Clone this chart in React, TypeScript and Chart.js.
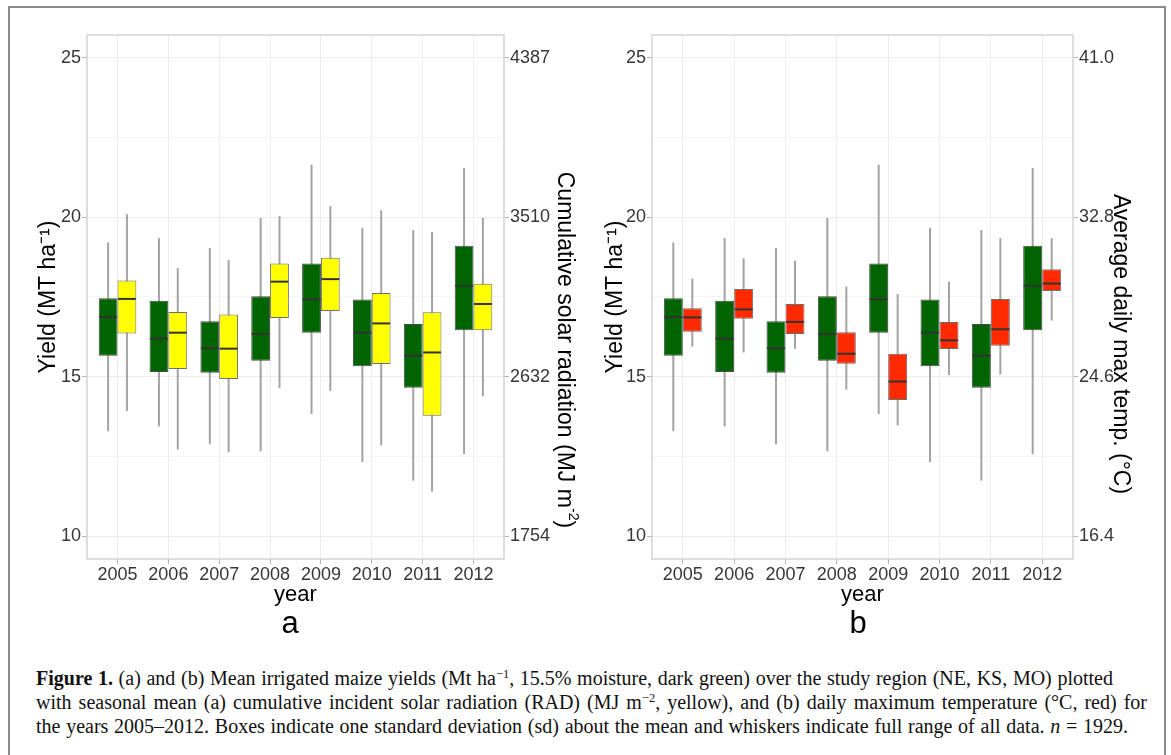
import React, { useEffect, useRef } from "react";
import { Chart, registerables } from "chart.js";

Chart.register(...registerables);

// ---------------- data ----------------
const YEARS = ["2005", "2006", "2007", "2008", "2009", "2010", "2011", "2012"];

// Irrigated maize yield (Mt ha-1): whisker min, box low (mean - sd), mean, box high (mean + sd), whisker max
const YIELD_MIN = [13.29, 13.44, 12.88, 12.66, 13.83, 12.32, 11.74, 12.57];
const YIELD_LOW = [15.66, 15.15, 15.12, 15.5, 16.38, 15.33, 14.65, 16.46];
const YIELD_MEAN = [16.87, 16.19, 15.89, 16.34, 17.43, 16.38, 15.66, 17.85];
const YIELD_HIGH = [17.46, 17.38, 16.74, 17.52, 18.55, 17.42, 16.65, 19.11];
const YIELD_MAX = [19.21, 19.35, 19.04, 19.98, 21.65, 19.67, 19.6, 21.55];

// Cumulative solar radiation (MJ m-2)
const RAD_MIN = [2442, 2231, 2216, 2568, 2553, 2254, 2000, 2524];
const RAD_LOW = [2869, 2674, 2619, 2955, 2993, 2702, 2417, 2888];
const RAD_MEAN = [3060, 2874, 2786, 3155, 3169, 2925, 2765, 3032];
const RAD_HIGH = [3162, 2988, 2974, 3255, 3286, 3093, 2986, 3144];
const RAD_MAX = [3527, 3230, 3274, 3516, 3571, 3548, 3429, 3506];

// Average daily max temperature (°C)
const TMAX_MIN = [26.15, 25.85, 26.03, 23.94, 22.09, 24.68, 24.71, 27.49];
const TMAX_LOW = [26.91, 27.58, 26.8, 25.26, 23.4, 26.03, 26.19, 29.01];
const TMAX_MEAN = [27.65, 28.06, 27.42, 25.78, 24.35, 26.47, 27.04, 29.39];
const TMAX_HIGH = [28.12, 29.11, 28.34, 26.88, 25.78, 27.42, 28.6, 30.13];
const TMAX_MAX = [29.65, 30.7, 30.57, 29.24, 28.85, 29.49, 31.73, 31.73];

// axes
const YIELD_RANGE = [9.28, 25.72];
const YIELD_TICKS = [10, 15, 20, 25];
const YIELD_MINOR_TICKS = [12.5, 17.5, 22.5];
const RAD_TICKS = [1754, 2632, 3510, 4387];
const TEMP_TICKS = [16.4, 24.6, 32.8, 41.0];

// ---------------- styling ----------------
const GREEN = "#006400";
const YELLOW = "#ffff00";
const RED = "#ff2a00";
const TICK_TEXT = "#363636";
const SANS = "'Liberation Sans', Arial, Helvetica, sans-serif";
const CANVAS_H = 615;

Chart.defaults.font.family = SANS;

const boxExtras = {
  id: "boxExtras",
  beforeDatasetsDraw(chart: any) {
    const ctx = chart.ctx;
    ctx.save();
    ctx.strokeStyle = "#a3a3a3";
    ctx.lineWidth = 2;
    chart.data.datasets.forEach((ds: any, di: number) => {
      const meta = chart.getDatasetMeta(di);
      const ys = chart.scales[meta.yAxisID];
      meta.data.forEach((el: any, i: number) => {
        const { x } = el.getProps(["x"], true);
        ctx.beginPath();
        ctx.moveTo(x, ys.getPixelForValue(ds.whiskerMin[i]));
        ctx.lineTo(x, ys.getPixelForValue(ds.whiskerMax[i]));
        ctx.stroke();
      });
    });
    ctx.restore();
  },
  afterDatasetsDraw(chart: any) {
    const ctx = chart.ctx;
    ctx.save();
    ctx.strokeStyle = "#333333";
    ctx.lineWidth = 2;
    chart.data.datasets.forEach((ds: any, di: number) => {
      const meta = chart.getDatasetMeta(di);
      const ys = chart.scales[meta.yAxisID];
      meta.data.forEach((el: any, i: number) => {
        const { x, width } = el.getProps(["x", "width"], true);
        const y = ys.getPixelForValue(ds.centre[i]);
        ctx.beginPath();
        ctx.moveTo(x - width / 2 + 0.5, y);
        ctx.lineTo(x + width / 2 - 0.5, y);
        ctx.stroke();
      });
    });
    const a = chart.chartArea;
    ctx.strokeStyle = "#d3d3d3";
    ctx.lineWidth = 1.5;
    ctx.strokeRect(a.left, a.top, a.right - a.left, a.bottom - a.top);
    ctx.restore();
  },
};

type PanelProps = {
  left: number;
  width: number;
  leftAxisWidth: number;
  rightAxisWidth: number;
  leftTitleOffset: number;
  secLabel: string;
  secColor: string;
  secMin: number[];
  secLow: number[];
  secMean: number[];
  secHigh: number[];
  secMax: number[];
  secTicks: number[];
  secFormat: (v: number) => string;
};

function secondaryRange(secTicks: number[]) {
  const a = (secTicks[3] - secTicks[0]) / (YIELD_TICKS[3] - YIELD_TICKS[0]);
  const map = (v: number) => secTicks[0] + (v - YIELD_TICKS[0]) * a;
  return [map(YIELD_RANGE[0]), map(YIELD_RANGE[1])];
}

function buildConfig(p: PanelProps): any {
  const [secLo, secHi] = secondaryRange(p.secTicks);
  const yieldTickList = [...YIELD_TICKS, ...YIELD_MINOR_TICKS].sort((a, b) => a - b);
  const isMajor = (v: number) => YIELD_TICKS.includes(v);
  return {
    type: "bar",
    data: {
      datasets: [
        {
          label: "Yield",
          data: YEARS.map((_, i) => ({ x: i, y: [YIELD_LOW[i], YIELD_HIGH[i]] })),
          whiskerMin: YIELD_MIN,
          whiskerMax: YIELD_MAX,
          centre: YIELD_MEAN,
          backgroundColor: GREEN,
          borderColor: "#4a4a4a",
          borderWidth: 1,
          borderSkipped: false,
          yAxisID: "y",
        },
        {
          label: p.secLabel,
          data: YEARS.map((_, i) => ({ x: i, y: [p.secLow[i], p.secHigh[i]] })),
          whiskerMin: p.secMin,
          whiskerMax: p.secMax,
          centre: p.secMean,
          backgroundColor: p.secColor,
          borderColor: "#6e6e6e",
          borderWidth: 1,
          borderSkipped: false,
          yAxisID: "y2",
        },
      ],
    },
    options: {
      responsive: false,
      animation: false,
      events: [],
      layout: { padding: { top: 35, left: 0, right: 0, bottom: 0 } },
      datasets: { bar: { categoryPercentage: 0.74, barPercentage: 1 } },
      plugins: { legend: { display: false }, tooltip: { enabled: false }, title: { display: false } },
      scales: {
        x: {
          type: "linear",
          offset: false,
          bounds: "data",
          min: -0.6,
          max: 7.6,
          afterBuildTicks: (s: any) => {
            s.ticks = YEARS.map((_, i) => ({ value: i }));
          },
          afterFit: (s: any) => {
            s.height = CANVAS_H - 559;
          },
          ticks: {
            autoSkip: false,
            maxRotation: 0,
            minRotation: 0,
            padding: 0,
            color: TICK_TEXT,
            font: { size: 18 },
            callback: (v: any) => YEARS[Math.round(Number(v))] ?? "",
          },
          grid: { offset: false, color: "#ececec", lineWidth: 1, tickLength: 5, tickColor: "#b5b5b5" },
          border: { display: false },
          title: { display: true, text: "year", color: "#000", font: { size: 22 }, padding: { top: 0, bottom: 6.8 } },
        },
        y: {
          type: "linear",
          position: "left",
          min: YIELD_RANGE[0],
          max: YIELD_RANGE[1],
          afterBuildTicks: (s: any) => {
            s.ticks = yieldTickList.map((v) => ({ value: v }));
          },
          afterFit: (s: any) => {
            s.width = p.leftAxisWidth;
          },
          ticks: {
            autoSkip: false,
            padding: 1,
            color: TICK_TEXT,
            font: { size: 18 },
            callback: (v: any) => (isMajor(Number(v)) ? String(v) : ""),
          },
          grid: {
            color: (c: any) => (c.tick && isMajor(c.tick.value) ? "#ebebeb" : "#f5f5f5"),
            lineWidth: 1,
            tickLength: 5,
            tickColor: (c: any) => (c.tick && isMajor(c.tick.value) ? "#b5b5b5" : "rgba(0,0,0,0)"),
          },
          border: { display: false },
          title: {
            display: true,
            text: "Yield (MT ha\u207B\u00B9)",
            color: "#000",
            font: { size: 23 },
            padding: { top: p.leftTitleOffset - 13.8, bottom: 0 },
          },
        },
        y2: {
          type: "linear",
          position: "right",
          min: secLo,
          max: secHi,
          afterBuildTicks: (s: any) => {
            s.ticks = p.secTicks.map((v) => ({ value: v }));
          },
          afterFit: (s: any) => {
            s.width = p.rightAxisWidth;
          },
          ticks: {
            autoSkip: false,
            padding: 1,
            color: TICK_TEXT,
            font: { size: 18 },
            callback: (v: any) => p.secFormat(Number(v)),
          },
          grid: { drawOnChartArea: false, tickLength: 5, tickColor: "#b5b5b5" },
          border: { display: false },
        },
      },
    },
    plugins: [boxExtras],
  };
}

function BoxPanel(p: PanelProps) {
  const ref = useRef<HTMLCanvasElement>(null);
  useEffect(() => {
    const chart = new Chart(ref.current as HTMLCanvasElement, buildConfig(p));
    return () => chart.destroy();
  }, []);
  return (
    <canvas
      ref={ref}
      width={p.width}
      height={CANVAS_H}
      style={{ position: "absolute", left: p.left, top: 0, width: p.width, height: CANVAS_H }}
    />
  );
}

const sideTitle = (x: number, y: number): React.CSSProperties => ({
  position: "absolute",
  left: x,
  top: y,
  transform: "translate(-50%, -50%)",
  writingMode: "vertical-rl",
  fontFamily: SANS,
  fontSize: 23,
  lineHeight: "28px",
  color: "#000",
  whiteSpace: "nowrap",
});

const panelLetter = (x: number): React.CSSProperties => ({
  position: "absolute",
  left: x,
  top: 606,
  transform: "translateX(-50%)",
  fontFamily: SANS,
  fontSize: 31,
  lineHeight: "34px",
  color: "#000",
});

const supStyle: React.CSSProperties = { fontSize: "0.62em", verticalAlign: "0.55em", lineHeight: 0 };

const captionLine = (width: number): React.CSSProperties => ({
  width,
  textAlign: "justify",
  textAlignLast: "justify",
  whiteSpace: "normal",
  height: 24,
  overflow: "visible",
});

export default function App() {
  useEffect(() => {
    document.body.style.margin = "0";
  }, []);
  return (
    <div
      style={{
        position: "absolute",
        left: 0,
        top: 0,
        width: 1171,
        height: 755,
        overflow: "hidden",
        background: "#fff",
      }}
    >
      <div
        style={{
          position: "absolute",
          left: 8,
          top: 6,
          width: 1154,
          height: 820,
          border: "2px solid #8a8a8a",
        }}
      />
      <BoxPanel
        left={0}
        width={585}
        leftAxisWidth={87}
        rightAxisWidth={81}
        leftTitleOffset={49}
        secLabel="Solar radiation"
        secColor={YELLOW}
        secMin={RAD_MIN}
        secLow={RAD_LOW}
        secMean={RAD_MEAN}
        secHigh={RAD_HIGH}
        secMax={RAD_MAX}
        secTicks={RAD_TICKS}
        secFormat={(v) => String(Math.round(v))}
      />
      <BoxPanel
        left={585}
        width={586}
        leftAxisWidth={67}
        rightAxisWidth={98}
        leftTitleOffset={31}
        secLabel="Max temperature"
        secColor={RED}
        secMin={TMAX_MIN}
        secLow={TMAX_LOW}
        secMean={TMAX_MEAN}
        secHigh={TMAX_HIGH}
        secMax={TMAX_MAX}
        secTicks={TEMP_TICKS}
        secFormat={(v) => v.toFixed(1)}
      />
      <div style={sideTitle(566, 350)}>
        Cumulative solar radiation (MJ m<sup style={supStyle}>-2</sup>)
      </div>
      <div style={sideTitle(1122, 344)}>Average daily max temp. (°C)</div>
      <div style={panelLetter(290)}>a</div>
      <div style={panelLetter(858)}>b</div>
      <div
        style={{
          position: "absolute",
          left: 36,
          top: 666,
          fontFamily: "'Liberation Serif', 'Times New Roman', serif",
          fontSize: 20,
          lineHeight: "24px",
          color: "#111",
        }}
      >
        <div style={captionLine(1077)}>
          <b>Figure 1.</b> (a) and (b) Mean irrigated maize yields (Mt ha
          <sup style={supStyle}>−1</sup>, 15.5% moisture, dark green) over the study region (NE, KS, MO) plotted
        </div>
        <div style={captionLine(1111)}>
          with seasonal mean (a) cumulative incident solar radiation (RAD) (MJ m<sup style={supStyle}>−2</sup>,
          yellow), and (b) daily maximum temperature (°C, red) for
        </div>
        <div style={captionLine(1092)}>
          the years 2005–2012. Boxes indicate one standard deviation (sd) about the mean and whiskers indicate full
          range of all data. <i>n</i> = 1929.
        </div>
      </div>
    </div>
  );
}
